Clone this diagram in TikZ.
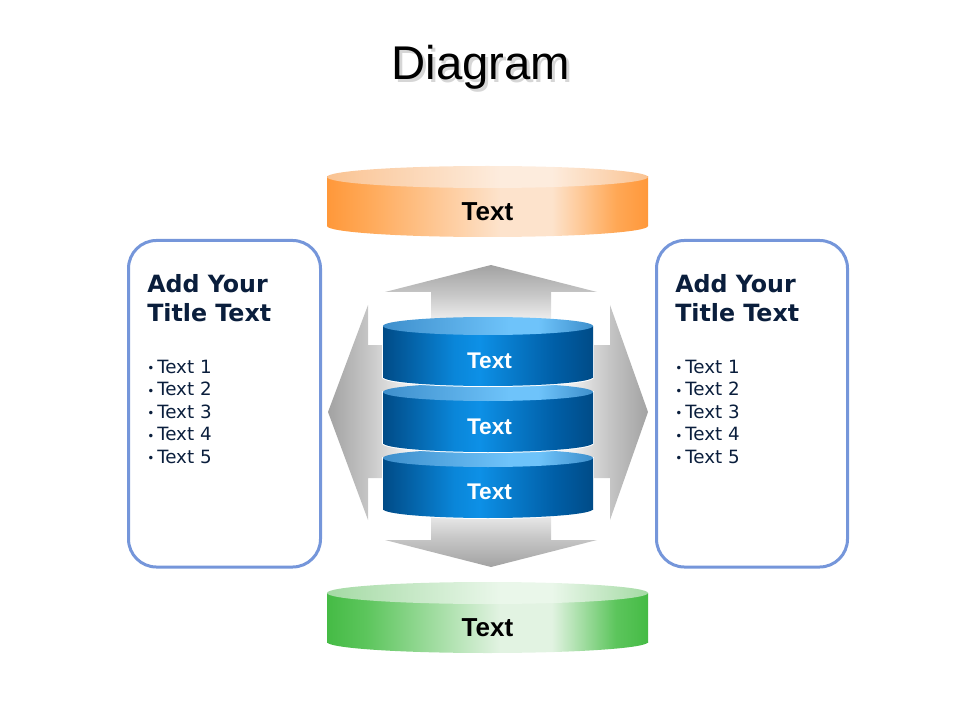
\documentclass[tikz,border=0pt]{standalone}
\usepackage{fontspec}
\setmainfont{Liberation Sans}
\newfontfamily\verd{DejaVu Sans}
\definecolor{orA}{HTML}{FF983A}
\definecolor{orB}{HTML}{FFA856}
\definecolor{orC}{HTML}{FDE3CC}
\definecolor{orTA}{HTML}{FAC392}
\definecolor{orTC}{HTML}{FDECDD}
\definecolor{grA}{HTML}{45BB45}
\definecolor{grB}{HTML}{5CC55C}
\definecolor{grC}{HTML}{E2F3E2}
\definecolor{grTA}{HTML}{A4DAA4}
\definecolor{grTC}{HTML}{EAF7EA}
\definecolor{blA}{HTML}{004B87}
\definecolor{blB}{HTML}{0A86D9}
\definecolor{blC}{HTML}{0D90E6}
\definecolor{blD}{HTML}{005EA6}
\definecolor{blTA}{HTML}{3E8FCC}
\definecolor{blTC}{HTML}{6EC3FA}
\definecolor{arD}{HTML}{A2A2A2}
\definecolor{arM}{HTML}{C6C6C6}
\definecolor{arL}{HTML}{F0F0F0}
\definecolor{boxblue}{HTML}{7596DA}
\definecolor{navy}{HTML}{0A1E3C}
\pgfdeclarehorizontalshading{orangebody}{100bp}{color(0bp)=(orA); color(25bp)=(orA); color(31bp)=(orB); color(52bp)=(orC); color(60bp)=(orC); color(70bp)=(orB); color(75bp)=(orA); color(100bp)=(orA)}
\pgfdeclarehorizontalshading{orangetop}{100bp}{color(0bp)=(orTA); color(25bp)=(orTA); color(52bp)=(orTC); color(60bp)=(orTC); color(75bp)=(orTA); color(100bp)=(orTA)}
\pgfdeclarehorizontalshading{greenbody}{100bp}{color(0bp)=(grA); color(25bp)=(grA); color(31bp)=(grB); color(52bp)=(grC); color(60bp)=(grC); color(70bp)=(grB); color(75bp)=(grA); color(100bp)=(grA)}
\pgfdeclarehorizontalshading{greentop}{100bp}{color(0bp)=(grTA); color(25bp)=(grTA); color(52bp)=(grTC); color(60bp)=(grTC); color(75bp)=(grTA); color(100bp)=(grTA)}
\pgfdeclarehorizontalshading{bluebody}{100bp}{color(0bp)=(blA); color(25bp)=(blA); color(42bp)=(blB); color(48bp)=(blC); color(66bp)=(blD); color(75bp)=(blA); color(100bp)=(blA)}
\pgfdeclarehorizontalshading{bluetop}{100bp}{color(0bp)=(blTA); color(25bp)=(blTA); color(55bp)=(blTC); color(62bp)=(blTC); color(75bp)=(blTA); color(100bp)=(blTA)}
\pgfdeclareverticalshading{arrowshade}{100bp}{color(0bp)=(white); color(25bp)=(white); color(40bp)=(arL); color(57bp)=(arM); color(75bp)=(arD); color(100bp)=(arD)}
\newcommand\mycyl[7]{%
  \path[shading=#6] (#1-#4,#2) rectangle (#1+#4,#3);
  \path[shading=#6] (#1,#3) ellipse [x radius=#4, y radius=#5];
  \path[shading=#7] (#1,#2) ellipse [x radius=#4, y radius=#5];}
\begin{document}
\begin{tikzpicture}[x=0.75pt, y=-0.75pt,
  box/.style={draw=boxblue, line width=2.25pt, rounded corners=21pt, minimum height=244.9pt, inner sep=0pt},
  btitle/.style={anchor=base west, inner sep=0pt, text=navy, font=\verd\bfseries\fontsize{17.8}{20}\selectfont},
  bul/.style={anchor=base west, inner sep=0pt, text=navy, font=\verd\fontsize{13.7}{15}\selectfont},
  bigtxt/.style={anchor=base, inner sep=0pt, font=\bfseries\fontsize{19.5}{20}\selectfont},
  bluetxt/.style={anchor=base, inner sep=0pt, text=white, font=\bfseries\fontsize{17}{18}\selectfont},
  arrowfill/.style={shading=arrowshade}]
\useasboundingbox (0,0) rectangle (960,720);
% title
\node[anchor=base, inner sep=0pt, text=black!16, font=\fontsize{35.5}{36}\selectfont] (titlesh) at (483.5,82.5) {Diagram};
\node[anchor=base, inner sep=0pt, font=\fontsize{35.5}{36}\selectfont] (title) at (481,80) {Diagram};
% gray arrows
\path[arrowfill] (491,265) -- (597,292) -- (551,292) -- (551,345) -- (431,345) -- (431,292) -- (385,292) -- cycle;
\path[arrowfill, shading angle=180] (491,567) -- (597,540) -- (551,540) -- (551,487) -- (431,487) -- (431,540) -- (385,540) -- cycle;
\path[arrowfill, shading angle=90] (328,412) -- (368,305) -- (368,345) -- (440,345) -- (440,478) -- (368,478) -- (368,520) -- cycle;
\path[arrowfill, shading angle=-90] (648,412) -- (610,305) -- (610,345) -- (538,345) -- (538,478) -- (610,478) -- (610,520) -- cycle;
% orange and green cylinders
\mycyl{487.5}{177}{226}{160.5}{11}{orangebody}{orangetop}
\mycyl{487.5}{593}{642}{160.5}{11}{greenbody}{greentop}
\node[bigtxt] (otxt) at (487.5,220.7) {Text};
\node[bigtxt] (gtxt) at (487.5,636.7) {Text};
% blue stack
\foreach \yt/\yb in {458/509, 392/443, 326/377}{
  \path[draw=white, line width=1.5] (488-105,\yt) rectangle (488+105,\yb);
  \path[draw=white, line width=1.5] (488,\yb) ellipse [x radius=105, y radius=9];
  \mycyl{488}{\yt}{\yb}{105}{9}{bluebody}{bluetop}
}
\node[bluetxt] (b1) at (489.5,368) {Text};
\node[bluetxt] (b2) at (489.5,434) {Text};
\node[bluetxt] (b3) at (489.5,499) {Text};
% side boxes
\node[box, minimum width=144pt] (lbox) at (224.5,403.75) {};
\node[box, minimum width=143.25pt] (rbox) at (752,403.75) {};
\foreach \xx/\nm in {147/l, 675/r}{
  \node[btitle] (\nm t1) at (\xx,292) {Add Your};
  \node[btitle] (\nm t2) at (\xx,321) {Title Text};
  \foreach \i in {1,...,5}{
    \node[bul] (\nm b\i) at (\xx,{373+(\i-1)*22.5}) {\makebox[7.5pt][l]{\fontsize{9}{9}\selectfont\raisebox{0.3pt}{•}}Text \i};
  }
}
\end{tikzpicture}
\end{document}
